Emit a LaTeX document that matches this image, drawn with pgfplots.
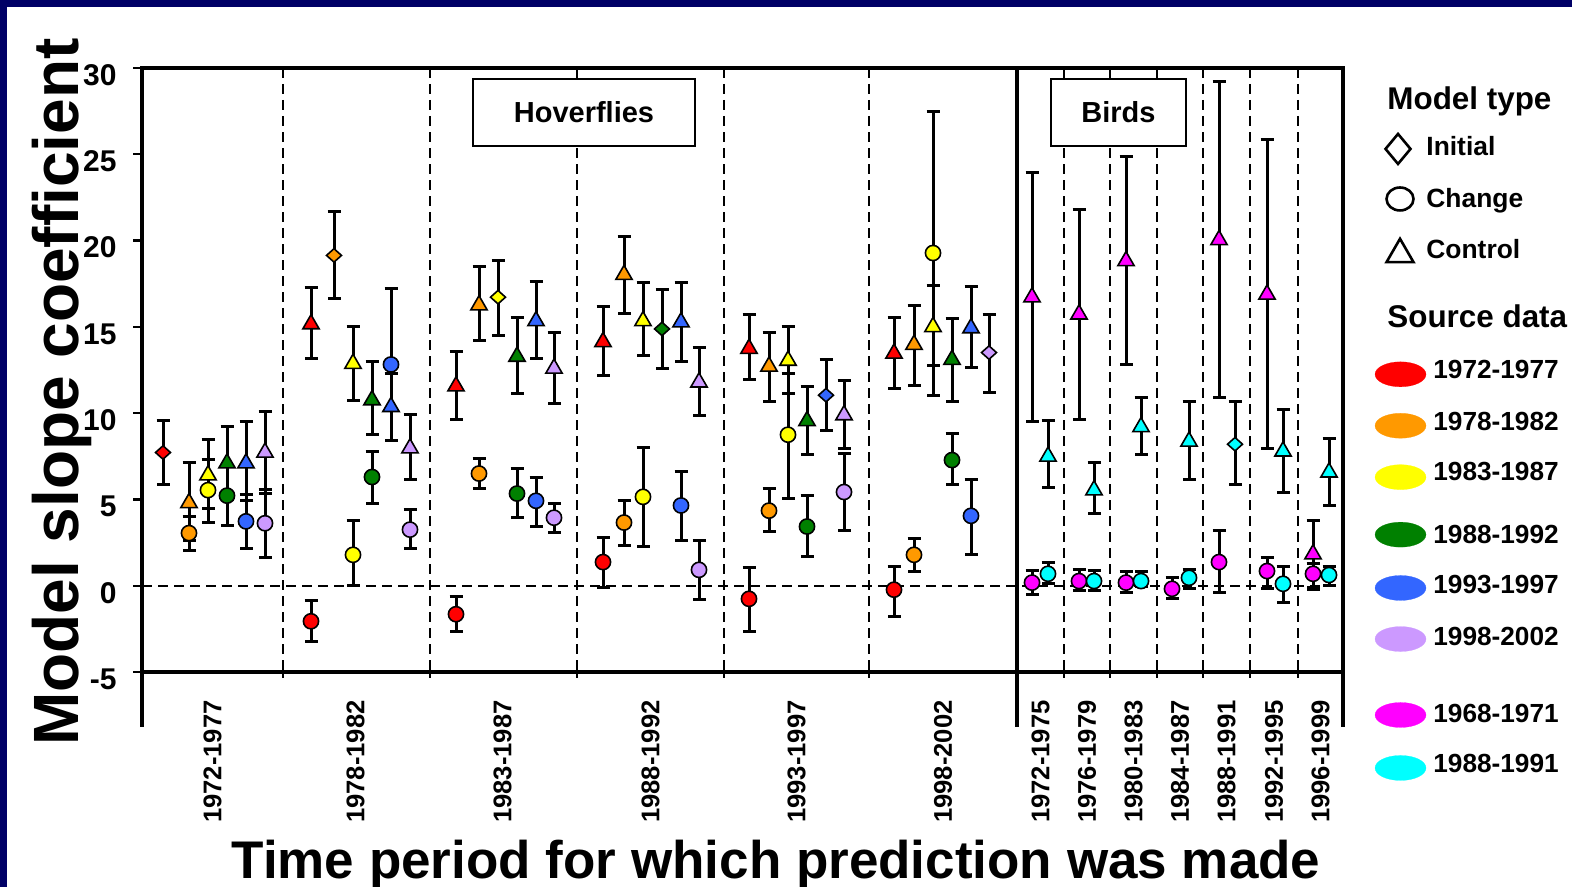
\documentclass[border=0pt]{standalone}
\usepackage{fontspec}
\setmainfont{Liberation Sans}
\usepackage{pgfplots}
\pgfplotsset{compat=1.18}
\definecolor{cRed}{HTML}{FF0000}
\definecolor{cOrange}{HTML}{FF9900}
\definecolor{cYellow}{HTML}{FFFF00}
\definecolor{cGreen}{HTML}{008000}
\definecolor{cBlue}{HTML}{3366FF}
\definecolor{cPurple}{HTML}{CC99FF}
\definecolor{cMagenta}{HTML}{FF00FF}
\definecolor{cCyan}{HTML}{00FFFF}
\definecolor{navyframe}{HTML}{000066}
\pgfplotsset{
 eb/.style={line width=1.5pt, black, error bars/y dir=both, error bars/y explicit,
   error bars/error bar style={line width=1.5pt, black, solid},
   error bars/error mark options={rotate=90, line width=1.5pt, black, mark size=3.25pt, solid}},
 tri/.style={only marks, mark=triangle*, mark size=4.7pt, eb, mark options={fill=#1, draw=black, line width=0.8pt}},
 circ/.style={only marks, mark=*, mark size=3.8pt, eb, mark options={fill=#1, draw=black, line width=0.8pt}},
 dia/.style={only marks, mark=diamond*, mark size=4pt, eb, mark options={fill=#1, draw=black, line width=0.8pt, xscale=1.25, yscale=0.84}},
 lg/.style={only marks, color=#1, mark=*, mark size=6.25pt, mark options={fill=#1, draw=#1, line width=0.1pt, xscale=2.04}},
}
\begin{document}
\begin{tikzpicture}
\useasboundingbox (0pt,0pt) rectangle (786pt,-443.5pt);
\fill[navyframe] (0pt,0pt) rectangle (786pt,-443.5pt);
\fill[white] (3.5pt,-3.5pt) rectangle (786pt,-443.5pt);
\begin{axis}[at={(71pt,-336pt)}, anchor=south west, scale only axis,
  width=600.5pt, height=302pt,
  xmin=142, xmax=1343, ymin=-5, ymax=30, clip=false,
  axis line style={line width=2.4pt},
  tick align=outside, major tick length=4.5pt,
  ytick pos=left, xtick pos=bottom,
  ytick={-5,0,5,10,15,20,25,30},
  yticklabels={-5,0,5,10,15,20,25,30},
  ytick style={line width=1.2pt, black},
  yticklabel style={font=\bfseries\fontsize{15}{18}\selectfont, inner sep=0pt, yshift=-3.5pt},
  yticklabel shift=8pt,
  xtick={212.5,355.5,502.5,650.5,796.5,943,1040.5,1087,1133.5,1180,1226.5,1274,1320.5},
  xticklabels={1972-1977,1978-1982,1983-1987,1988-1992,1993-1997,1998-2002,1972-1975,1976-1979,1980-1983,1984-1987,1988-1991,1992-1995,1996-1999},
  xtick style={draw=none},
  xticklabel style={rotate=90, anchor=east, inner sep=0pt, font=\bfseries\fontsize{12.8}{15}\selectfont},
  xticklabel shift=9.5pt,
]
% dividers
\foreach \xx in {283,430,577,724,869,1064,1110,1157,1203,1250,1298}{
  \edef\tmp{\noexpand\draw[line width=1pt, dash pattern=on 5pt off 3pt] (axis cs:\xx,30) -- (axis cs:\xx,-5);
  \noexpand\draw[line width=1.2pt] (axis cs:\xx,-5) -- (axis cs:\xx,-5.35);}\tmp
}
\draw[line width=1pt, dash pattern=on 5pt off 3pt] (axis cs:142,0) -- (axis cs:1343,0);
\draw[line width=2pt] (axis cs:1017,30) -- (axis cs:1017,-8.19);
\draw[line width=2.4pt] (axis cs:142,-5) -- (axis cs:142,-8.19);
\draw[line width=2.4pt] (axis cs:1343,-5) -- (axis cs:1343,-8.19);
% panel boxes
\draw[line width=1.3pt, fill=white] (axis cs:473,29.36) rectangle (axis cs:695,25.48);
\node[inner sep=0pt, font=\bfseries\fontsize{14.5}{17}\selectfont] at (axis cs:584,27.42) {Hoverflies};
\draw[line width=1.3pt, fill=white] (axis cs:1051,29.36) rectangle (axis cs:1186,25.48);
\node[inner sep=0pt, font=\bfseries\fontsize{14.5}{17}\selectfont] at (axis cs:1118.5,27.42) {Birds};

% ---- data: circles (Change)
\addplot[circ=cRed] coordinates {(311,-2.06) += (0,1.19) -= (0,1.15) (456,-1.65) += (0,1.03) -= (0,1.03) (603,1.37) += (0,1.42) -= (0,1.48) (749,-0.76) += (0,1.84) -= (0,1.92) (894,-0.23) += (0,1.37) -= (0,1.53)};
\addplot[circ=cOrange] coordinates {(189,3.05) += (0,0.95) -= (0,0.99) (479,6.5) += (0,0.9) -= (0,0.89) (624,3.66) += (0,1.26) -= (0,1.32) (769,4.35) += (0,1.26) -= (0,1.21) (914,1.79) += (0,0.96) -= (0,0.99)};
\addplot[circ=cYellow] coordinates {(208,5.54) += (0,1.79) -= (0,1.88) (353,1.79) += (0,1.97) -= (0,1.79) (643,5.15) += (0,2.86) -= (0,2.86) (788,8.75) += (0,3.55) -= (0,3.67) (933,19.28) += (0,8.22) -= (0,8.24)};
\addplot[circ=cGreen] coordinates {(227,5.22) += (0,1.72) -= (0,1.72) (372,6.3) += (0,1.49) -= (0,1.56) (517,5.34) += (0,1.48) -= (0,1.4) (807,3.43) += (0,1.77) -= (0,1.76) (952,7.28) += (0,1.54) -= (0,1.44)};
\addplot[circ=cBlue] coordinates {(246,3.73) += (0,1.54) -= (0,1.55) (391,12.82) += (0,4.42) -= (0,4.39) (536,4.92) += (0,1.38) -= (0,1.49) (681,4.65) += (0,1.95) -= (0,2.02) (971,4.05) += (0,2.13) -= (0,2.22)};
\addplot[circ=cPurple] coordinates {(265,3.62) += (0,1.98) -= (0,1.97) (410,3.25) += (0,1.17) -= (0,1.07) (554,3.94) += (0,0.8) -= (0,0.85) (699,0.92) += (0,1.71) -= (0,1.72) (844,5.43) += (0,2.24) -= (0,2.22)};
\addplot[circ=cMagenta] coordinates {(1032,0.18) += (0,0.69) -= (0,0.68) (1079,0.27) += (0,0.65) -= (0,0.57) (1126,0.18) += (0,0.65) -= (0,0.59) (1172,-0.18) += (0,0.64) -= (0,0.55) (1219,1.37) += (0,1.84) -= (0,1.78) (1267,0.85) += (0,0.8) -= (0,1.03) (1313,0.69) += (0,0.6) -= (0,0.92)};
\addplot[circ=cCyan] coordinates {(1048,0.69) += (0,0.68) -= (0,0.58) (1094,0.27) += (0,0.6) -= (0,0.57) (1141,0.27) += (0,0.53) -= (0,0.34) (1189,0.46) += (0,0.5) -= (0,0.64) (1283,0.11) += (0,1.03) -= (0,1.09) (1329,0.62) += (0,0.52) -= (0,0.62)};
% ---- triangles (Control)
\addplot[tri=cRed] coordinates {(311,15.16) += (0,2.11) -= (0,1.97) (456,11.56) += (0,2.02) -= (0,1.9) (603,14.13) += (0,2.06) -= (0,1.93) (749,13.74) += (0,1.99) -= (0,1.79) (894,13.46) += (0,2.09) -= (0,2.01)};
\addplot[tri=cOrange] coordinates {(189,4.8) += (0,2.34) -= (0,2.17) (479,16.26) += (0,2.22) -= (0,2.04) (624,18.02) += (0,2.22) -= (0,2.22) (769,12.71) += (0,1.99) -= (0,2.06) (914,13.97) += (0,2.29) -= (0,2.34)};
\addplot[tri=cYellow] coordinates {(208,6.41) += (0,2.06) -= (0,1.94) (353,12.87) += (0,2.15) -= (0,2.11) (643,15.34) += (0,2.22) -= (0,1.99) (788,13.05) += (0,1.97) -= (0,1.94) (933,15.0) += (0,2.4) -= (0,2.22)};
\addplot[tri=cGreen] coordinates {(227,7.1) += (0,2.13) -= (0,2.13) (372,10.76) += (0,2.24) -= (0,1.97) (517,13.28) += (0,2.29) -= (0,2.13) (807,9.55) += (0,2.01) -= (0,1.95) (952,13.1) += (0,2.4) -= (0,2.45)};
\addplot[tri=cBlue] coordinates {(246,7.1) += (0,2.4) -= (0,2.18) (391,10.37) += (0,1.94) -= (0,1.94) (536,15.34) += (0,2.29) -= (0,2.17) (681,15.27) += (0,2.29) -= (0,2.27) (971,14.93) += (0,2.4) -= (0,2.29)};
\addplot[tri=cPurple] coordinates {(265,7.72) += (0,2.36) -= (0,2.36) (410,7.97) += (0,1.95) -= (0,1.79) (554,12.59) += (0,2.11) -= (0,2.06) (699,11.79) += (0,2.02) -= (0,1.94) (844,9.89) += (0,2.02) -= (0,1.94)};
\addplot[tri=cMagenta] coordinates {(1032,16.72) += (0,7.21) -= (0,7.22) (1079,15.73) += (0,6.07) -= (0,6.07) (1126,18.82) += (0,6.07) -= (0,6.0) (1219,20.04) += (0,9.16) -= (0,9.16) (1267,16.88) += (0,9.0) -= (0,8.91) (1313,1.83) += (0,1.95) -= (0,1.95)};
\addplot[tri=cCyan] coordinates {(1048,7.49) += (0,2.06) -= (0,1.77) (1094,5.54) += (0,1.6) -= (0,1.37) (1141,9.2) += (0,1.68) -= (0,1.6) (1189,8.36) += (0,2.29) -= (0,2.22) (1283,7.79) += (0,2.4) -= (0,2.36) (1329,6.57) += (0,1.95) -= (0,1.94)};
% ---- diamonds (Initial)
\addplot[dia=cRed] coordinates {(163,7.72) += (0,1.83) -= (0,1.88)};
\addplot[dia=cOrange] coordinates {(334,19.14) += (0,2.52) -= (0,2.49)};
\addplot[dia=cYellow] coordinates {(498,16.72) += (0,2.1) -= (0,2.2)};
\addplot[dia=cGreen] coordinates {(662,14.88) += (0,2.29) -= (0,2.29)};
\addplot[dia=cBlue] coordinates {(826,11.04) += (0,2.08) -= (0,2.06)};
\addplot[dia=cPurple] coordinates {(989,13.51) += (0,2.18) -= (0,2.29)};
\addplot[dia=cCyan] coordinates {(1235,8.2) += (0,2.45) -= (0,2.36)};

% ---- legend (model type)
\node[anchor=base west, inner sep=0pt, font=\bfseries\fontsize{15.7}{18}\selectfont] at (axis cs:1387,27.62) {Model type};
\addplot[only marks, mark=diamond*, mark size=7.5pt, mark options={fill=white, draw=black, line width=1.3pt, xscale=1.11}] coordinates {(1398,25.31)};
\addplot[only marks, mark=*, mark size=6.75pt, mark options={fill=white, draw=black, line width=1.3pt, yscale=0.85}] coordinates {(1400,22.41)};
\addplot[only marks, mark=triangle*, mark size=7.8pt, mark options={fill=white, draw=black, line width=1.3pt}] coordinates {(1400,19.2)};
\node[anchor=base west, inner sep=0pt, font=\bfseries\fontsize{13.2}{16}\selectfont] at (axis cs:1426,24.91) {Initial};
\node[anchor=base west, inner sep=0pt, font=\bfseries\fontsize{13.2}{16}\selectfont] at (axis cs:1426,21.9) {Change};
\node[anchor=base west, inner sep=0pt, font=\bfseries\fontsize{13.2}{16}\selectfont] at (axis cs:1426,18.99) {Control};
% ---- legend (source data)
\node[anchor=base west, inner sep=0pt, font=\bfseries\fontsize{15.7}{18}\selectfont] at (axis cs:1387,14.99) {Source data};
\addplot[lg=cRed] coordinates {(1400.5,12.25)};
\addplot[lg=cOrange] coordinates {(1400.5,9.27)};
\addplot[lg=cYellow] coordinates {(1400.5,6.29)};
\addplot[lg=cGreen] coordinates {(1400.5,2.96)};
\addplot[lg=cBlue] coordinates {(1400.5,-0.13)};
\addplot[lg=cPurple] coordinates {(1400.5,-3.09)};
\addplot[lg=cMagenta] coordinates {(1400.5,-7.49)};
\addplot[lg=cCyan] coordinates {(1400.5,-10.56)};
\foreach \yy/\tt in {12.0/1972-1977, 9.0/1978-1982, 6.07/1983-1987, 2.47/1988-1992, -0.45/1993-1997, -3.44/1998-2002, -7.9/1968-1971, -10.82/1988-1991}{
  \edef\tmp{\noexpand\node[anchor=base west, inner sep=0pt, font=\noexpand\bfseries\noexpand\fontsize{13.1}{16}\noexpand\selectfont] at (axis cs:1433,\yy) {\tt};}\tmp
}
% ---- axis titles
\node[rotate=90, anchor=base, inner sep=0pt, font=\bfseries\fontsize{32}{36}\selectfont] at (axis cs:78,11.22) {Model slope coefficient};
\node[anchor=base, inner sep=0pt, font=\bfseries\fontsize{26.5}{30}\selectfont] at (axis cs:776,-16.94) {Time period for which prediction was made};
\end{axis}
\end{tikzpicture}
\end{document}
